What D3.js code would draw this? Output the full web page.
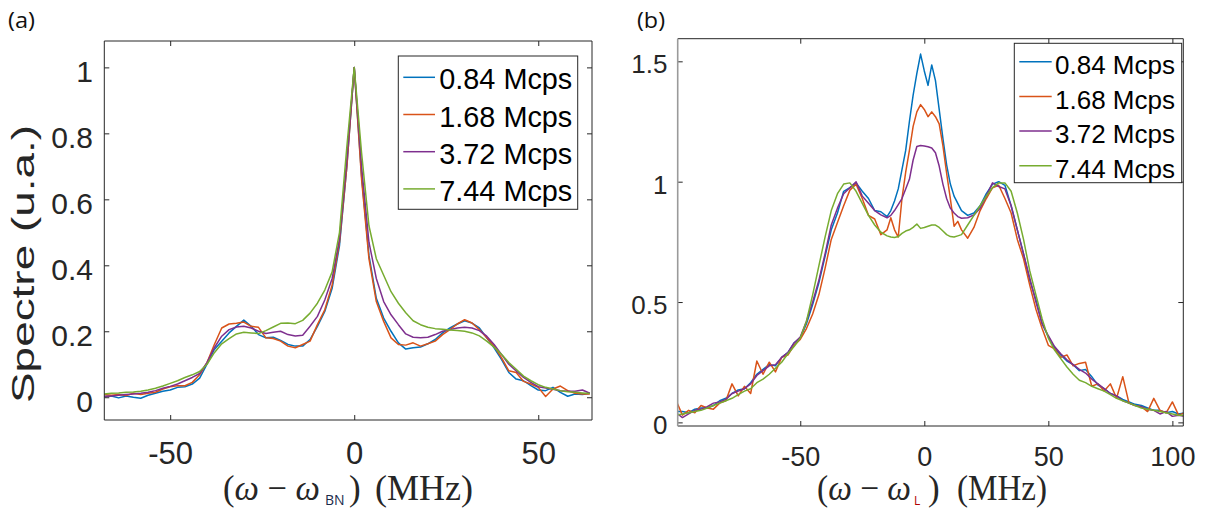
<!DOCTYPE html>
<html><head><meta charset="utf-8">
<script src="https://cdn.jsdelivr.net/npm/d3@7"></script>
<style>body{margin:0;background:#fff}svg{display:block}</style>
</head><body><svg id="c" width="1209" height="510"></svg>
<script>
// ---------- data ----------
const seriesNames = ["0.84 Mcps","1.68 Mcps","3.72 Mcps","7.44 Mcps"];
const seriesColors = ["#0072BD","#D95319","#7E2F8E","#77AC30"];

// panel (a): frequency offset (MHz)
const xA = [-68,-66,-64,-62,-60,-58,-56,-54,-52,-50,-48,-46,-44,-42,-40,-38,-36,-34,-32,-30,-28,-26,-24,-22,-20,-18,-16,-14,-12,-10,-8,-6,-4,-2,0,2,4,6,8,10,12,14,16,18,20,22,24,26,28,30,32,34,36,38,40,42,44,46,48,50,52,54,56,58,60,62,64];
const a084 = [0.002,0.004,-0.002,0.004,0.000,-0.003,0.006,0.012,0.018,0.022,0.030,0.032,0.040,0.058,0.100,0.145,0.170,0.195,0.215,0.234,0.215,0.190,0.180,0.182,0.172,0.160,0.155,0.155,0.175,0.215,0.260,0.330,0.460,0.700,1.000,0.670,0.430,0.300,0.240,0.200,0.165,0.146,0.150,0.152,0.162,0.175,0.195,0.210,0.222,0.232,0.225,0.210,0.180,0.150,0.115,0.075,0.055,0.050,0.035,0.022,0.020,0.030,0.015,0.003,0.010,0.008,0.012];
const a168 = [0.008,0.006,0.008,0.005,0.012,0.008,0.012,0.015,0.025,0.032,0.035,0.035,0.045,0.068,0.105,0.160,0.210,0.222,0.224,0.228,0.215,0.212,0.180,0.178,0.170,0.155,0.150,0.160,0.170,0.220,0.265,0.340,0.470,0.700,1.000,0.660,0.420,0.290,0.230,0.180,0.160,0.158,0.165,0.155,0.162,0.170,0.190,0.205,0.222,0.235,0.225,0.205,0.180,0.155,0.120,0.080,0.075,0.048,0.040,0.030,0.002,0.025,0.034,0.020,0.012,0.010,0.010];
const a372 = [0.002,0.004,0.006,0.008,0.010,0.012,0.015,0.020,0.027,0.033,0.040,0.050,0.060,0.072,0.105,0.150,0.185,0.205,0.213,0.215,0.210,0.200,0.193,0.197,0.200,0.190,0.186,0.188,0.215,0.245,0.295,0.360,0.480,0.720,1.000,0.700,0.470,0.360,0.290,0.250,0.220,0.192,0.182,0.180,0.182,0.190,0.200,0.205,0.210,0.212,0.210,0.202,0.185,0.160,0.130,0.100,0.080,0.060,0.045,0.032,0.028,0.024,0.020,0.018,0.018,0.022,0.012];
const a744 = [0.010,0.012,0.013,0.015,0.016,0.018,0.022,0.027,0.034,0.042,0.050,0.060,0.068,0.078,0.100,0.135,0.162,0.178,0.192,0.197,0.195,0.193,0.202,0.213,0.224,0.225,0.223,0.233,0.255,0.285,0.325,0.380,0.500,0.760,1.000,0.740,0.520,0.420,0.370,0.320,0.285,0.256,0.232,0.220,0.212,0.208,0.206,0.204,0.202,0.200,0.195,0.186,0.170,0.152,0.130,0.105,0.085,0.064,0.050,0.038,0.030,0.025,0.020,0.017,0.015,0.013,0.011];

// panel (b): frequency offset (MHz)
const xB = [-100,-97.5,-95,-92.5,-90,-87.5,-85,-82.5,-80,-77.5,-75,-72.5,-70,-67.5,-65,-62.5,-60,-57.5,-55,-52.5,-50,-47.5,-45,-42.5,-40,-37.5,-35,-32.5,-30,-27.5,-25,-22.5,-20,-17.5,-15,
 -13.5,-12,-10.5,-9,-7.5,-6,-4.5,-3,-1.5,0,1.5,3,4.5,6,7.5,9,10.5,12,13.5,
 15,17.5,20,22.5,25,27.5,30,32.5,35,37.5,40,42.5,45,47.5,50,52.5,55,57.5,60,62.5,65,67.5,70,72.5,75,77.5,80,82.5,85,87.5,90,92.5,95,97.5,100,102.5,105];
const b084 = [0.045,0.045,0.040,0.055,0.060,0.060,0.070,0.090,0.100,0.120,0.135,0.140,0.165,0.200,0.220,0.240,0.235,0.270,0.290,0.330,0.350,0.410,0.490,0.580,0.690,0.800,0.870,0.960,0.975,0.995,0.960,0.930,0.880,0.875,0.855,
 0.880,0.920,0.970,1.050,1.130,1.250,1.360,1.450,1.530,1.460,1.400,1.485,1.420,1.300,1.180,1.070,0.990,0.940,0.910,
 0.880,0.860,0.870,0.900,0.950,0.990,1.000,0.985,0.900,0.800,0.700,0.590,0.510,0.410,0.355,0.310,0.280,0.255,0.240,0.215,0.220,0.190,0.155,0.140,0.120,0.110,0.095,0.085,0.075,0.070,0.060,0.050,0.050,0.040,0.045,0.035,0.040];
const b168 = [0.090,0.030,0.050,0.040,0.070,0.060,0.055,0.080,0.090,0.160,0.110,0.150,0.120,0.255,0.200,0.250,0.210,0.270,0.280,0.320,0.345,0.390,0.450,0.530,0.640,0.760,0.830,0.900,0.965,0.990,0.930,0.860,0.845,0.780,0.800,
 0.850,0.800,0.770,0.930,1.040,1.130,1.230,1.290,1.320,1.300,1.270,1.290,1.270,1.240,1.150,1.035,0.930,0.815,0.835,
 0.800,0.765,0.810,0.880,0.930,0.975,0.985,0.930,0.870,0.760,0.680,0.570,0.470,0.390,0.320,0.305,0.270,0.280,0.235,0.245,0.250,0.150,0.160,0.130,0.160,0.100,0.190,0.080,0.070,0.065,0.045,0.100,0.050,0.040,0.085,0.030,0.040];
const b372 = [0.040,0.020,0.035,0.050,0.055,0.065,0.080,0.085,0.095,0.120,0.130,0.140,0.160,0.195,0.215,0.235,0.240,0.270,0.290,0.330,0.355,0.420,0.500,0.590,0.700,0.820,0.890,0.950,0.975,1.000,0.940,0.910,0.880,0.862,0.850,
 0.860,0.880,0.905,0.930,0.970,1.010,1.090,1.146,1.150,1.148,1.145,1.140,1.120,1.065,0.990,0.930,0.890,0.870,0.855,
 0.848,0.850,0.862,0.890,0.940,0.995,0.980,0.970,0.900,0.800,0.700,0.600,0.500,0.410,0.360,0.315,0.285,0.260,0.240,0.220,0.205,0.180,0.160,0.140,0.120,0.110,0.090,0.080,0.070,0.065,0.055,0.050,0.035,0.045,0.025,0.030,0.025];
const b744 = [0.030,0.035,0.040,0.045,0.050,0.060,0.070,0.080,0.090,0.100,0.115,0.130,0.140,0.165,0.180,0.200,0.225,0.250,0.285,0.315,0.350,0.420,0.530,0.650,0.770,0.880,0.950,0.990,0.995,0.960,0.910,0.860,0.820,0.790,0.775,
 0.770,0.768,0.772,0.785,0.795,0.800,0.810,0.824,0.806,0.810,0.815,0.820,0.820,0.810,0.795,0.780,0.772,0.770,0.775,
 0.780,0.820,0.860,0.900,0.940,0.975,0.995,0.995,0.960,0.870,0.760,0.630,0.530,0.430,0.350,0.300,0.265,0.230,0.200,0.175,0.165,0.150,0.140,0.130,0.115,0.100,0.090,0.080,0.070,0.060,0.055,0.050,0.045,0.040,0.035,0.030,0.030];

const ticksAx = [-50, 0, 50];
const ticksAy = [0, 0.2, 0.4, 0.6, 0.8, 1];
const ticksBx = [-50, 0, 50, 100];
const ticksBy = [0, 0.5, 1, 1.5];

// ---------- drawing ----------
const svg = d3.select("#c");
const SANS = "'Liberation Sans', Arial, Helvetica, sans-serif";
const SERIF = "'Liberation Serif', 'DejaVu Serif', serif";
const AXC = "#262626";

function panel(cfg) {
  const {L, R, T, B, xDom, yDom, xs, ys, xt, yt, id} = cfg;
  const x = d3.scaleLinear().domain(xDom).range([L, R]);
  const y = d3.scaleLinear().domain(yDom).range([B, T]);
  const g = svg.append("g");
  g.append("clipPath").attr("id", id).append("rect")
    .attr("x", L).attr("y", T).attr("width", R - L).attr("height", B - T);

  const line = d3.line().x(d => x(d[0])).y(d => y(d[1]));
  const lg = g.append("g").attr("clip-path", `url(#${id})`);
  ys.forEach((vals, i) => {
    lg.append("path").datum(xs.map((xv, k) => [xv, vals[k]]))
      .attr("d", line).attr("fill", "none")
      .attr("stroke", seriesColors[i]).attr("stroke-width", 1.5)
      .attr("stroke-linejoin", "round");
  });

  // axes (ticks inward, box)
  const tick = 5;
  const axB = g.append("g").attr("transform", `translate(0,${B})`)
    .call(d3.axisBottom(x).tickValues(xt).tickSize(-tick).tickSizeOuter(0).tickFormat(d => String(d)));
  const axT = g.append("g").attr("transform", `translate(0,${T})`)
    .call(d3.axisTop(x).tickValues(xt).tickSize(-tick).tickSizeOuter(0).tickFormat(""));
  const axL = g.append("g").attr("transform", `translate(${L},0)`)
    .call(d3.axisLeft(y).tickValues(yt).tickSize(-tick).tickSizeOuter(0).tickFormat(d => String(d)));
  const axR = g.append("g").attr("transform", `translate(${R},0)`)
    .call(d3.axisRight(y).tickValues(yt).tickSize(-tick).tickSizeOuter(0).tickFormat(""));
  [axB, axT, axL, axR].forEach(a => {
    a.select(".domain").remove();
    a.selectAll(".tick line").attr("stroke", AXC).attr("stroke-width", 1);
  });
  axB.selectAll(".tick text").attr("fill", AXC).attr("font-family", SANS)
    .attr("font-size", cfg.xfs).attr("y", cfg.xlabY - B).attr("dy", null);
  axL.selectAll(".tick text").attr("fill", AXC).attr("font-family", SANS)
    .attr("font-size", cfg.yfs).attr("x", cfg.ylabX - L).attr("dy", null)
    .attr("y", cfg.yOff).attr("text-anchor", "end");
  [axB, axT, axL, axR].forEach(a => a.attr("font-family", null).attr("font-size", null));

  // box
  g.append("line").attr("x1", L).attr("x2", R).attr("y1", T).attr("y2", T).attr("stroke", AXC);
  g.append("line").attr("x1", L).attr("x2", R).attr("y1", B).attr("y2", B).attr("stroke", AXC);
  g.append("line").attr("x1", R).attr("x2", R).attr("y1", T).attr("y2", B).attr("stroke", AXC);
  g.append("line").attr("x1", L).attr("x2", L).attr("y1", T).attr("y2", B)
    .attr("stroke", cfg.leftColor || AXC).attr("stroke-width", cfg.leftWidth || 1);

  // legend
  const lgd = cfg.legend;
  const lgG = g.append("g");
  lgG.append("rect").attr("x", lgd.x).attr("y", lgd.y).attr("width", lgd.w).attr("height", lgd.h)
    .attr("fill", "#fff").attr("stroke", AXC).attr("stroke-width", 1);
  seriesNames.forEach((n, i) => {
    const yy = lgd.row0 + i * lgd.dy;
    lgG.append("line").attr("x1", lgd.lx1).attr("x2", lgd.lx2).attr("y1", yy).attr("y2", yy)
      .attr("stroke", seriesColors[i]).attr("stroke-width", 1.5);
    lgG.append("text").attr("x", lgd.tx).attr("y", yy + lgd.base)
      .attr("font-family", SANS).attr("font-size", lgd.fs).attr("fill", "#000")
      .attr("textLength", lgd.tl).attr("lengthAdjust", "spacingAndGlyphs").text(n);
  });
  return {x, y, g};
}

panel({
  id: "clipA", L: 104.3, R: 592, T: 41, B: 420,
  xDom: [-67.9, 64.6], yDom: [-0.069, 1.08],
  xs: xA, ys: [a084, a168, a372, a744], xt: ticksAx, yt: ticksAy,
  xfs: "31px", yfs: "30px", xlabY: 463.5, ylabX: 93, yOff: 14,
  legend: {x: 398.3, y: 56, w: 179.4, h: 153.3, row0: 77.3, dy: 37.2,
           lx1: 403.3, lx2: 435, tx: 439.3, base: 12, fs: "29px", tl: 133}
});

panel({
  id: "clipB", L: 677.7, R: 1183.3, T: 38.7, B: 426,
  xDom: [-99.4, 104.4], yDom: [-0.015, 1.594],
  xs: xB, ys: [b084, b168, b372, b744], xt: ticksBx, yt: ticksBy,
  xfs: "27px", yfs: "26px", xlabY: 465.5, ylabX: 667.5, yOff: 11.6,
  leftColor: "#9a9a9a", leftWidth: 1.6,
  legend: {x: 1014.3, y: 43.3, w: 167.4, h: 139.4, row0: 61.7, dy: 34.7,
           lx1: 1019.3, lx2: 1051.7, tx: 1055, base: 12.3, fs: "26px", tl: 120}
});

// y axis label (a)
svg.append("text").attr("transform", "translate(34,403) rotate(-90)")
  .attr("font-family", SANS).attr("font-size", "32px").attr("fill", AXC)
  .attr("textLength", 278).attr("lengthAdjust", "spacingAndGlyphs")
  .text("Spectre (u.a.)");

// panel letters
svg.append("text").attr("x", 8).attr("y", 28).attr("font-family", "'Open Sans', 'Noto Sans', sans-serif")
  .attr("font-size", "22px").attr("fill", "#111").attr("textLength", 27).attr("lengthAdjust", "spacingAndGlyphs").text("(a)");
svg.append("text").attr("x", 637).attr("y", 28).attr("font-family", "'Open Sans', 'Noto Sans', sans-serif")
  .attr("font-size", "22px").attr("fill", "#111").attr("textLength", 28).attr("lengthAdjust", "spacingAndGlyphs").text("(b)");

// x axis labels (LaTeX-like)
function xlabel(o) {
  const t1 = svg.append("text").attr("x", o.x0).attr("y", 500).attr("font-family", SERIF)
    .attr("font-size", "35px").attr("fill", AXC)
    .attr("textLength", o.tl1).attr("lengthAdjust", "spacingAndGlyphs");
  t1.append("tspan").text("(");
  t1.append("tspan").attr("font-style", "italic").text("ω");
  t1.append("tspan").text(" − ");
  t1.append("tspan").attr("font-style", "italic").text("ω");
  svg.append("text").attr("x", o.sx).attr("y", 505).attr("font-family", "'Open Sans', 'Noto Sans', sans-serif")
    .attr("font-size", o.sfs).attr("fill", o.scol).text(o.sub);
  svg.append("text").attr("x", o.cp).attr("y", 500).attr("font-family", SERIF)
    .attr("font-size", "35px").attr("fill", AXC).text(")");
  svg.append("text").attr("x", o.x2).attr("y", 500).attr("font-family", SERIF)
    .attr("font-size", "35px").attr("fill", AXC)
    .attr("textLength", o.tl2).attr("lengthAdjust", "spacingAndGlyphs").text("(MHz)");
}
xlabel({x0: 223, tl1: 97, sx: 325, sub: "BN", sfs: "14px", scol: "#1a2a4a", cp: 349, x2: 375, tl2: 98});
xlabel({x0: 817, tl1: 94, sx: 914, sub: "L", sfs: "12px", scol: "#b00000", cp: 928, x2: 957, tl2: 90});
</script></body></html>
